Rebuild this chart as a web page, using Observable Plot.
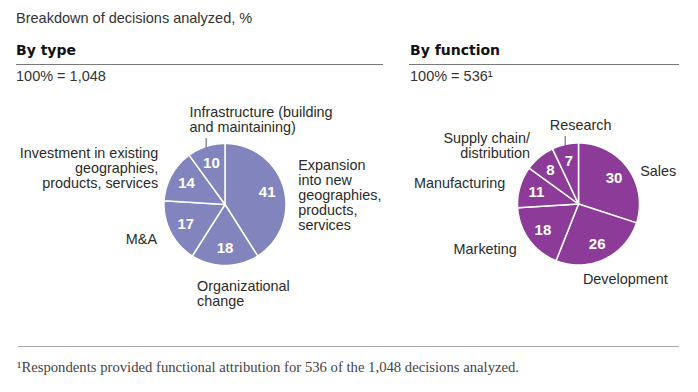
<!DOCTYPE html>
<html>
<head>
<meta charset="utf-8">
<script src="https://cdn.jsdelivr.net/npm/d3@7"></script>
<script src="https://cdn.jsdelivr.net/npm/@observablehq/plot@0.6"></script>
<style>
  html, body { margin: 0; padding: 0; background: #fff; }
  #chart { position: relative; width: 698px; height: 392px; overflow: hidden;
           font-family: "Liberation Sans", Arial, sans-serif; color: #333; }
  .t { position: absolute; white-space: nowrap; line-height: 16px; }
  .title { left: 16px; top: 10px; font-size: 14.5px; }
  .head { top: 42px; font-family: "DejaVu Sans", sans-serif; font-weight: bold; font-size: 14px; color: #111; }
  .base { top: 68px; font-size: 14.5px; }
  .rule { position: absolute; height: 0; border-top: 1px solid #7a7a7a; }
  .foot { left: 17px; top: 359px; font-family: "Liberation Serif", serif; font-size: 14.7px; color: #444; }
  .plot { position: absolute; top: 95px; }
</style>
</head>
<body>
<div id="chart">
  <div class="t title">Breakdown of decisions analyzed, %</div>
  <div class="t head" style="left:16px">By type</div>
  <div class="t head" style="left:410px">By function</div>
  <div class="rule" style="left:16px; width:367px; top:64px"></div>
  <div class="rule" style="left:409px; width:270px; top:64px"></div>
  <div class="t base" style="left:16px">100% = 1,048</div>
  <div class="t base" style="left:410px">100% = 536¹</div>
  <div id="p1" class="plot" style="left:0px"></div>
  <div id="p2" class="plot" style="left:395px"></div>
  <div class="rule" style="left:18px; width:661px; top:346px; border-top-color:#aaa"></div>
  <div class="t foot">¹Respondents provided functional attribution for 536 of the 1,048 decisions analyzed.</div>
</div>
<script>
// ---- data ----
const typeLabels = [
  "Expansion\ninto new\ngeographies,\nproducts,\nservices",
  "Organizational\nchange",
  "M&A",
  "Investment in existing\ngeographies,\nproducts, services",
  "Infrastructure (building\nand maintaining)"
];
const typeValues = [41, 18, 17, 14, 10];

const functionLabels = [
  "Sales",
  "Development",
  "Marketing",
  "Manufacturing",
  "Supply chain/\ndistribution",
  "Research"
];
const functionValues = [30, 26, 18, 11, 8, 7];

// ---- pie builder ----
function piePlot({labels, values, color, width, height, cx, cy, r}) {
  const arcs = d3.pie().sort(null).value(d => d)(values);
  const slices = arcs.map((a, i) => {
    const mid = (a.startAngle + a.endAngle) / 2;
    const ux = Math.sin(mid), uy = Math.cos(mid);
    const group = Math.abs(ux) < 0.5 ? (uy > 0 ? "top" : "bottom") : (ux > 0 ? "right" : "left");
    return {i, label: labels[i], value: values[i], a0: a.startAngle, a1: a.endAngle, ux, uy, group};
  });
  const poly = slices.flatMap(s => {
    const n = Math.max(2, Math.ceil((s.a1 - s.a0) / (Math.PI / 180)));
    const pts = [{i: s.i, x: 0, y: 0}];
    for (let k = 0; k <= n; k++) {
      const a = s.a0 + (s.a1 - s.a0) * k / n;
      pts.push({i: s.i, x: Math.sin(a), y: Math.cos(a)});
    }
    pts.push({i: s.i, x: 0, y: 0});
    return pts;
  });
  const R = 1.25, VR = 0.72;
  const lx = d => R * d.ux, ly = d => R * d.uy;
  const fs = 14.4, lh = 1.04;
  const common = {x: lx, y: ly, text: "label", fontSize: fs, lineHeight: lh, fill: "#2b2b2b"};
  return Plot.plot({
    width, height,
    margin: 0,
    style: {fontFamily: "'Liberation Sans', Arial, sans-serif", fontSize: fs + "px", background: "transparent", overflow: "visible"},
    x: {domain: [-cx / r, (width - cx) / r], range: [0, width], axis: null},
    y: {domain: [-(height - cy) / r, cy / r], range: [height, 0], axis: null},
    marks: [
      Plot.line(poly, {x: "x", y: "y", z: "i", fill: color, stroke: "white", strokeWidth: 1.5, strokeLinejoin: "round", curve: "linear"}),
      Plot.text(slices, {x: d => VR * d.ux, y: d => VR * d.uy, text: d => String(d.value),
        fill: "white", fontWeight: "bold", fontSize: 15, textAnchor: "middle", lineAnchor: "middle"}),
      Plot.ruleX(slices.filter(d => d.group === "top"), {
        x: d => d.ux, y1: d => Math.sqrt(1 - d.ux * d.ux) - 0.03, y2: d => Math.sqrt(1 - d.ux * d.ux) + 0.13,
        stroke: "#555", strokeWidth: 1}),
      Plot.text(slices.filter(d => d.group === "right"), {...common, textAnchor: "start", lineAnchor: "middle", dy: 12}),
      Plot.text(slices.filter(d => d.group === "left"), {...common, textAnchor: "end", lineAnchor: "middle"}),
      Plot.text(slices.filter(d => d.group === "top"), {...common, textAnchor: "start", lineAnchor: "bottom", dx: -12}),
      Plot.text(slices.filter(d => d.group === "bottom"), {...common, textAnchor: "start", lineAnchor: "top", dx: -28})
    ]
  });
}

document.getElementById("p1").append(piePlot({
  labels: typeLabels, values: typeValues, color: "#8284be",
  width: 390, height: 220, cx: 224.5, cy: 109, r: 61
}));
document.getElementById("p2").append(piePlot({
  labels: functionLabels, values: functionValues, color: "#8c3c98",
  width: 303, height: 220, cx: 183, cy: 108.5, r: 61
}));
</script>
</body>
</html>
